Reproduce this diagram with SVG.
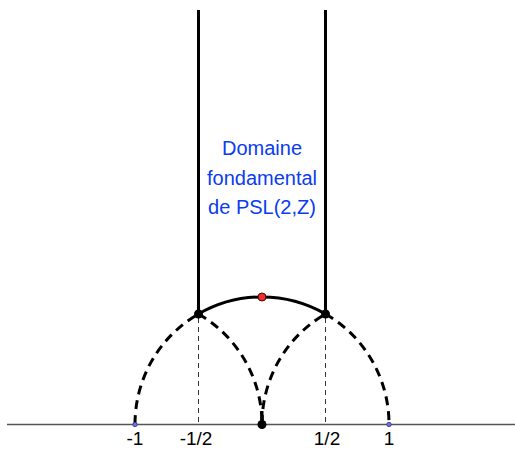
<svg xmlns="http://www.w3.org/2000/svg" width="515" height="449" viewBox="0 0 515 449">
<style>
.thick{fill:none;stroke:#000;stroke-width:3;}
.dash{fill:none;stroke:#000;stroke-width:3;stroke-dasharray:9 6;}
.thin{fill:none;stroke:#333;stroke-width:1;stroke-dasharray:5 4;}
.axis{stroke:#555;stroke-width:1.5;}
.lbl{font-family:"Liberation Sans",Arial,sans-serif;font-size:19px;fill:#000;text-anchor:middle;}
.title{font-family:"Liberation Sans",Arial,sans-serif;font-size:20px;fill:#0a3cf0;text-anchor:middle;}
.pt{fill:#000;}
.small{fill:#7070e0;stroke:#303080;stroke-width:0.8;}
</style>
<rect width="515" height="449" fill="#fff"/>
<g id="connectors">
<line id="axis" class="axis" x1="7" y1="424.5" x2="515" y2="424.5"/>
<line class="thick" x1="198.5" y1="10" x2="198.5" y2="314"/>
<line class="thick" x1="325.5" y1="10" x2="325.5" y2="314"/>
<path class="thick" d="M198.5 314 A127 127 0 0 1 325.5 314"/>
<path class="dash" d="M135 424 A127 127 0 0 1 198.5 314"/>
<path class="dash" d="M198.5 314 A127 127 0 0 1 262 424"/>
<path class="dash" d="M262 424 A127 127 0 0 1 325.5 314"/>
<path class="dash" d="M325.5 314 A127 127 0 0 1 389 424"/>
<line class="thick" x1="262" y1="411" x2="262" y2="424"/>
<line class="thin" x1="198.5" y1="318" x2="198.5" y2="424"/>
<line class="thin" x1="325.5" y1="318" x2="325.5" y2="424"/>
</g>
<g id="node-minus1"><circle class="small" cx="135" cy="424.5" r="2.2"/><text class="lbl" x="135" y="445">-1</text></g>
<g id="node-minushalf"><circle class="pt" cx="198.5" cy="314" r="4.5"/><text class="lbl" x="196" y="445">-1/2</text></g>
<g id="node-zero"><circle class="pt" cx="262" cy="424.5" r="4.5"/></g>
<g id="node-half"><circle class="pt" cx="325.5" cy="314" r="4.5"/><text class="lbl" x="327" y="445">1/2</text></g>
<g id="node-one"><circle class="small" cx="389" cy="424.5" r="2.2"/><text class="lbl" x="389" y="445">1</text></g>
<g id="node-i"><circle cx="262" cy="297" r="4" fill="#e83030" stroke="#500" stroke-width="1"/></g>
<g id="label-domain">
<text class="title" x="262" y="155">Domaine</text>
<text class="title" x="262" y="185">fondamental</text>
<text class="title" x="262" y="214">de PSL(2,Z)</text>
</g>
</svg>
